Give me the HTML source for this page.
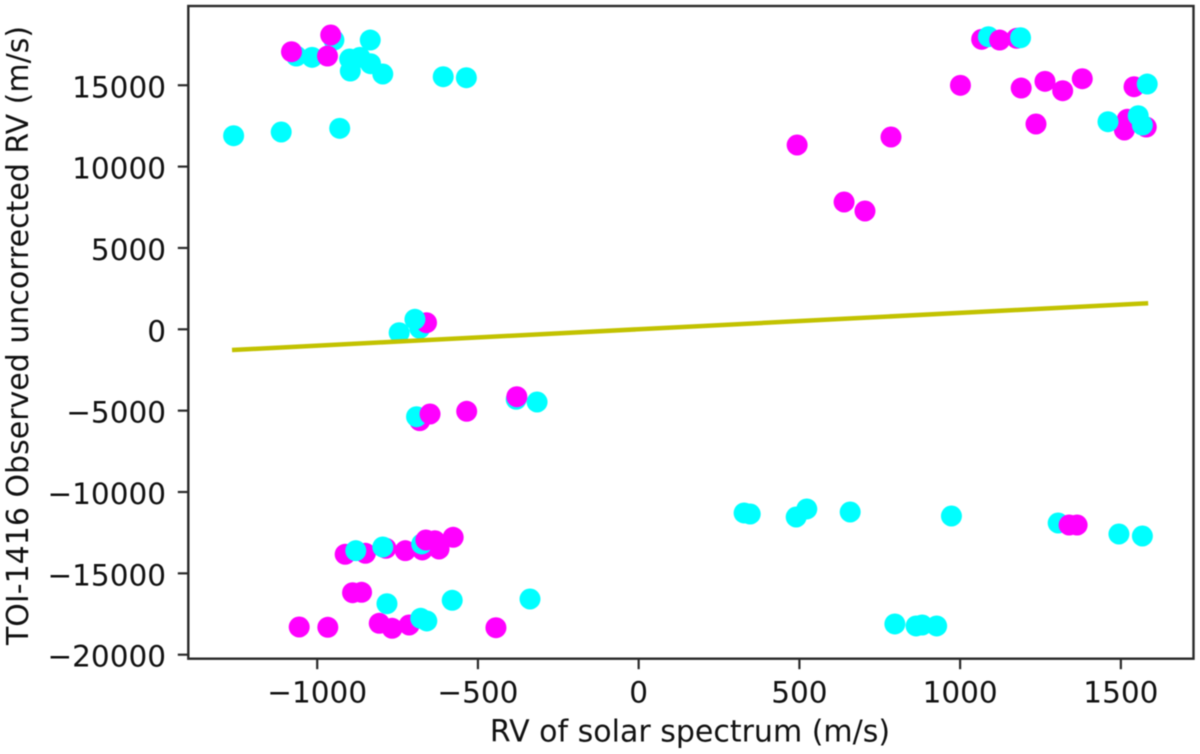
<!DOCTYPE html>
<html>
<head>
<meta charset="utf-8">
<title>TOI-1416 RV scatter</title>
<style>
html,body{margin:0;padding:0;background:#fff;}
#chart{display:block;width:1200px;height:754px;filter:blur(0.5px);}
text{font-family:"DejaVu Sans","Liberation Sans",sans-serif;fill:#111;}
</style>
</head>
<body>
<svg id="chart" xmlns="http://www.w3.org/2000/svg" width="1200" height="754" viewBox="0 0 1200 754"></svg>
<script>
var xTickValues = [-1000, -500, 0, 500, 1000, 1500];
var yTickValues = [15000, 10000, 5000, 0, -5000, -10000, -15000, -20000];
var xAxisTitle = "RV of solar spectrum (m/s)";
var yAxisTitle = "TOI-1416 Observed uncorrected RV (m/s)";
var xDomain = [-1401, 1726];
var yDomain = [-20246, 19871];

var cyanBackX = [-1065, -948, -1016, -681, -381, 1305, -745];
var cyanBackY = [16797, 17780, 16717, 61, -4302, -11905, -209];

var magentaBackX = [-1080, -968, -958, 1067, 1176, 1001, 1190, 1264, 1319, 1380, 1236, 1541, 1520, 1511, 1579, 493, 639, 704, 785, -660, -681, -535, -913, -850, -786, -726, -673, -621, -890, -862, -1056, -967, -807, -767, -714, -444, 1339, 1364];
var magentaBackY = [17061, 16797, 18088, 17823, 17885, 14996, 14830, 15242, 14664, 15402, 12618, 14910, 12907, 12249, 12433, 11327, 7824, 7271, 11819, 406, -5617, -5040, -13829, -13767, -13460, -13607, -13564, -13503, -16189, -16164, -18297, -18315, -18069, -18377, -18174, -18340, -12028, -12028];

var cyanFrontX = [-1260, -1112, -930, -899, -897, -867, -835, -834, -796, -608, -536, 1088, 1188, 1582, 1460, 1567, 1554, -696, -691, -316, -880, -796, -675, -783, -580, -338, -659, -678, 328, 347, 490, 523, 658, 973, 1567, 1494, 797, 863, 882, 927];
var cyanFrontY = [11899, 12126, 12353, 16613, 15875, 16717, 17780, 16324, 15691, 15525, 15463, 17983, 17922, 15076, 12759, 12556, 13128, 615, -5372, -4468, -13607, -13380, -13195, -16865, -16656, -16576, -17928, -17762, -11290, -11352, -11536, -11044, -11229, -11475, -12704, -12581, -18112, -18235, -18174, -18235];

var magentaFrontX = [1123, -649, -379, -662, -634, -577];
var magentaFrontY = [17780, -5206, -4142, -12950, -12993, -12784];

var fitLineX = [-1265, 1585];
var fitLineY = [-1272, 1600];

var NS = "http://www.w3.org/2000/svg";
var svg = document.getElementById("chart");
var plot = {left: 188.3, right: 1193.5, top: 6, bottom: 658.7};

function sx(v){ return plot.left + (v - xDomain[0]) / (xDomain[1] - xDomain[0]) * (plot.right - plot.left); }
function sy(v){ return plot.bottom - (v - yDomain[0]) / (yDomain[1] - yDomain[0]) * (plot.bottom - plot.top); }
function make(tag, attrs){
  var el = document.createElementNS(NS, tag);
  for (var k in attrs) el.setAttribute(k, attrs[k]);
  return el;
}
function label(v){ return String(v).replace("-", "\u2212"); }

function drawPoints(xs, ys, color, name){
  for (var i = 0; i < xs.length; i++){
    var c = make("circle", {cx: sx(xs[i]), cy: sy(ys[i]), r: 10.5, fill: color});
    
    
    svg.appendChild(c);
  }
}

drawPoints(cyanBackX, cyanBackY, "#00ffff", "cyan-point");
drawPoints(magentaBackX, magentaBackY, "#ff00ff", "magenta-point");
drawPoints(cyanFrontX, cyanFrontY, "#00ffff", "cyan-point");
drawPoints(magentaFrontX, magentaFrontY, "#ff00ff", "magenta-point");

var fit = make("line", {x1: sx(fitLineX[0]), y1: sy(fitLineY[0]), x2: sx(fitLineX[1]), y2: sy(fitLineY[1]), stroke: "#c2c200", "stroke-width": 4.5});


svg.appendChild(fit);

var frame = make("rect", {x: plot.left, y: plot.top, width: plot.right - plot.left, height: plot.bottom - plot.top, fill: "none", stroke: "#2a2a2a", "stroke-width": 2.4});


svg.appendChild(frame);

xTickValues.forEach(function(v){
  var t = make("line", {x1: sx(v), x2: sx(v), y1: plot.bottom, y2: plot.bottom + 10.5, stroke: "#2a2a2a", "stroke-width": 2.2});
  
  
  svg.appendChild(t);
  var l = make("text", {x: sx(v), y: 702.5, "text-anchor": "middle", "font-size": 29.5});
  
  
  l.textContent = label(v);
  svg.appendChild(l);
});

yTickValues.forEach(function(v){
  var t = make("line", {x1: plot.left - 10.5, x2: plot.left, y1: sy(v), y2: sy(v), stroke: "#2a2a2a", "stroke-width": 2.2});
  
  
  svg.appendChild(t);
  var l = make("text", {x: 166, y: sy(v) + 12, "text-anchor": "end", "font-size": 29.5});
  
  
  l.textContent = label(v);
  svg.appendChild(l);
});

var xt = make("text", {x: 690, y: 741.5, "text-anchor": "middle", "font-size": 30});


xt.textContent = xAxisTitle;
svg.appendChild(xt);

var yt = make("text", {x: 0, y: 0, "text-anchor": "middle", "font-size": 30, transform: "translate(28,335.5) rotate(-90)"});


yt.textContent = yAxisTitle;
svg.appendChild(yt);
</script>
</body>
</html>
